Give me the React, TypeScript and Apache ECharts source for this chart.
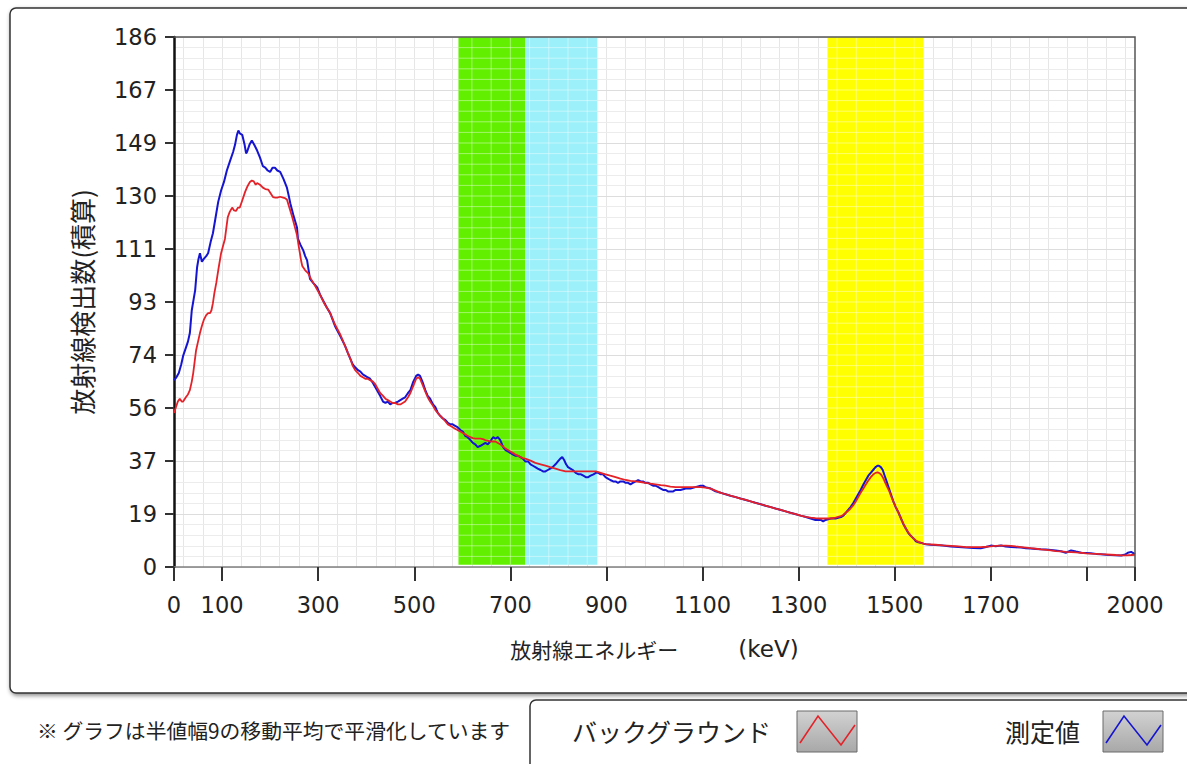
import React, { useEffect, useRef } from "react";
import * as echarts from "echarts";

// ---- data (keV, counts) ----
const measuredData: [number, number][] = [
  [0,65.5],[5,66.5],[10,68],[15,71],[19,74],[25,77],[29,79],[33,82],[37,90],[41,94],[44,97],[48,105],[51,108],[54,110],[58,107],[62,108],[67,109],[71,110],[77,114.5],[81,117],[86,122],[92,128],[98,132],[104,135],[110,139],[116,142],[123,145.5],[127,148],[131,151.5],[134,153],[137,152],[142,151.5],[147,148],[150,145],[152,145.5],[157,148],[162,149.5],[167,148],[173,146],[179,143.5],[185,140.5],[190,140],[195,139],[200,138.5],[205,140],[210,140],[215,139],[221,138.5],[228,136],[235,133],[239,130],[242,127.5],[249,123],[256,119],[258,115],[263,113],[269,111],[273,109],[277,107.5],[283,101],[290,99.5],[298,98],[304,95.5],[310,93.5],[318,91],[325,89],[335,84.5],[346,81],[356,77.5],[362,75],[367,73],[372,71],[377,70],[383,69],[388,68.5],[393,67.5],[398,67],[403,66.5],[408,66],[414,64.5],[419,63],[424,61.5],[429,60],[435,58],[440,57.5],[445,58],[450,57],[455,57.5],[460,57.5],[466,58],[471,58.5],[476,59],[481,59.5],[487,61],[492,62],[498,65],[504,67],[508,67.5],[512,67],[517,65],[523,62],[528,60],[533,59],[539,57],[544,56],[549,54],[554,53],[560,52],[565,51.5],[570,50.5],[575,50],[580,50],[585,49.5],[590,49],[596,48],[601,47.5],[606,46],[611,45.5],[617,44.5],[622,43.5],[627,43],[632,42],[638,42.5],[643,43],[648,43.5],[653,43],[658,44],[664,45.5],[669,45],[674,45.5],[679,44.5],[685,42],[690,41],[695,40.5],[700,40],[705,39.5],[710,39],[716,39],[721,38.5],[726,38],[731,37],[737,37],[742,36],[747,35.5],[752,35],[757,34.5],[763,34],[768,33.5],[773,33.5],[778,34],[783,34.5],[788,35],[794,36],[799,37],[804,38],[808,38.5],[812,37.5],[816,36],[820,35],[825,34.5],[830,34],[836,33],[842,32.5],[847,32.5],[852,32],[857,31.5],[862,31.5],[867,32],[873,32.5],[878,33],[883,33],[888,32.5],[893,32.5],[898,31.5],[903,31],[908,30.5],[914,30],[919,30],[924,29.5],[929,30],[935,30],[940,29.5],[945,29.5],[950,29],[955,29.5],[961,30],[966,30.5],[971,30],[976,30],[981,29.5],[987,29.5],[992,29],[997,28.5],[1002,28.5],[1008,28],[1013,27.5],[1018,27],[1023,27],[1028,26.5],[1033,26.5],[1039,26.5],[1044,27],[1054,27],[1065,27.5],[1075,27.5],[1085,28],[1096,28.5],[1101,28.5],[1106,28],[1117,27.5],[1127,26.5],[1138,26],[1148,25.5],[1158,25],[1169,24.5],[1179,24],[1190,23.5],[1200,23],[1210,22.5],[1221,22],[1231,21.5],[1242,21],[1252,20.5],[1263,20],[1273,19.5],[1283,19],[1294,18.5],[1304,18],[1315,17.5],[1325,17],[1335,16.5],[1346,16.5],[1351,16],[1356,16.5],[1367,17],[1377,17],[1388,17.5],[1393,18],[1398,19],[1403,20],[1408,21],[1414,22.5],[1419,24],[1424,25.5],[1429,27],[1435,29],[1440,30.5],[1445,32],[1450,33],[1455,34],[1460,35],[1464,35.5],[1467,35.5],[1471,35],[1475,34],[1479,32],[1483,30],[1488,27.5],[1492,25.5],[1497,23],[1502,21],[1508,19],[1513,17],[1518,15],[1523,13.5],[1528,12],[1533,11],[1539,10],[1544,9],[1549,8.7],[1554,8.5],[1560,8.2],[1565,8],[1575,7.8],[1585,7.7],[1600,7.5],[1617,7.2],[1633,7],[1648,6.8],[1664,6.7],[1679,6.6],[1690,7],[1700,7.5],[1710,7.3],[1721,7.5],[1731,7.2],[1742,7],[1752,6.9],[1763,6.8],[1773,6.6],[1783,6.5],[1794,6.3],[1804,6.2],[1815,6.1],[1825,6],[1835,5.8],[1846,5.5],[1856,5],[1867,5.8],[1877,5.4],[1888,5],[1898,4.9],[1908,4.8],[1919,4.6],[1929,4.5],[1940,4.3],[1950,4.2],[1960,4.1],[1971,4],[1980,4.4],[1985,5],[1992,5.3],[2000,4.5]
];

const backgroundData: [number, number][] = [
  [0,54],[4,56],[8,58],[12,59],[16,58],[19,58],[25,59.6],[29,60.5],[33,62],[37,65],[40,68],[43,72],[46,76],[50,79],[54,82],[58,84.5],[62,86.6],[67,88.3],[71,89],[75,89],[78,90],[81,92.5],[84,96],[88,99.6],[93,105],[98,110],[102,112.5],[106,115],[109,119],[112,122.7],[116,124.5],[121,126],[125,125],[129,124.8],[133,126],[137,126],[142,128.5],[148,131.5],[153,133.5],[158,135],[162,135.5],[166,135.2],[170,134],[173,134.6],[179,134],[185,133],[190,132.5],[196,132.3],[201,131],[206,129.7],[211,129.5],[215,129.5],[221,129.8],[227,129.5],[231,129.3],[235,128.8],[240,126],[246,122.7],[251,119.5],[256,116.4],[259,113],[262,110],[265,107],[267,105.5],[273,104],[279,103],[285,101],[290,99.6],[297,97.5],[304,95.4],[314,92],[325,89],[335,85],[346,81.5],[356,77.5],[362,75],[367,73],[372,70.5],[377,69],[383,68],[388,67],[393,66.5],[398,66],[403,66],[408,65.5],[414,65],[419,64],[424,62.5],[429,61],[435,60],[440,59],[445,58.5],[450,58],[455,57.5],[460,57.5],[466,57],[471,57],[476,57.5],[481,58],[487,59.5],[492,61],[498,63.5],[504,66],[508,66.5],[512,66],[517,64],[523,61.5],[528,59.5],[533,58],[539,56.5],[544,55],[549,54],[554,53],[560,52],[565,51],[570,50],[575,49.5],[580,49],[585,48.5],[590,48],[596,47.5],[601,47],[606,46.5],[611,46],[617,45.5],[622,45.2],[627,45],[632,45],[638,45],[643,44.8],[648,44.5],[653,44.3],[658,44],[664,44],[669,44],[674,43.5],[679,43],[685,42.2],[690,41.5],[695,41],[700,40.5],[705,40],[710,39.5],[716,39],[721,38.5],[726,38.2],[731,38],[742,37.3],[752,36.5],[763,36],[773,35.5],[783,35],[794,34.5],[804,34],[815,33.5],[825,33.5],[836,33.5],[846,33.5],[857,33.5],[867,33.5],[878,33.5],[888,33],[898,32.5],[908,32],[919,31.5],[929,31],[940,30.5],[950,30.2],[961,30],[971,29.8],[981,29.5],[992,29.2],[1002,29],[1013,28.7],[1023,28.5],[1033,28.2],[1044,28],[1054,28],[1065,28],[1075,28],[1085,28],[1096,28],[1106,27.8],[1117,27.5],[1127,26.8],[1138,26],[1148,25.5],[1158,25],[1169,24.5],[1179,24],[1190,23.5],[1200,23],[1210,22.5],[1221,22],[1231,21.5],[1242,21],[1252,20.5],[1263,20],[1273,19.5],[1283,19],[1294,18.5],[1304,18],[1315,17.6],[1325,17.3],[1335,17.1],[1346,17],[1356,17],[1367,17],[1377,17.3],[1388,17.8],[1393,18.3],[1398,19],[1403,19.7],[1408,20.5],[1414,21.7],[1419,23],[1424,24.5],[1429,26],[1435,27.6],[1440,29],[1445,30.3],[1450,31.5],[1455,32.4],[1460,33],[1464,33.2],[1467,33],[1471,32.5],[1475,31.5],[1479,30],[1483,28.5],[1488,26.8],[1492,25],[1497,23],[1502,21],[1508,19],[1513,17],[1518,15.2],[1523,13.5],[1528,12.2],[1533,11],[1539,10],[1544,9.3],[1549,8.8],[1554,8.5],[1560,8.2],[1565,8],[1585,7.8],[1600,7.6],[1617,7.4],[1633,7.2],[1648,7],[1664,7],[1679,7],[1690,7.1],[1700,7.2],[1710,7.4],[1721,7.5],[1731,7.5],[1742,7.4],[1752,7.2],[1763,7],[1773,6.8],[1783,6.6],[1794,6.4],[1804,6.2],[1815,6],[1825,5.8],[1835,5.6],[1846,5.5],[1856,5.3],[1867,5.2],[1877,5.1],[1888,5],[1898,4.8],[1908,4.7],[1919,4.6],[1929,4.5],[1940,4.4],[1950,4.3],[1960,4.2],[1971,4.1],[1981,4.1],[1992,4.2],[2000,4.3]
];

// axis settings
const xMin = 0;
const xMax = 2000;
const yMin = 0;
const yMax = 185.8;
const yStep = 18.58;
const xTickValues = [0, 100, 300, 500, 700, 900, 1100, 1300, 1500, 1700, 1900, 2000];
const xLabelValues = [0, 100, 300, 500, 700, 900, 1100, 1300, 1500, 1700, 2000];

// highlighted energy windows
const bandStarts = [592, 731, 1360];
const bandEnds = [731, 881, 1560];
const bandColors = ["#62f000", "#9cf0fa", "#ffff00"];

const seriesNames = ["バックグラウンド", "測定値"];
const seriesColors = ["#e42228", "#1414d2"];

const xAxisName = "{a|放射線エネルギー}{s|　　　}{b|(keV)}";
const yAxisName = "放射線検出数(積算)";
const noteText = "※ グラフは半値幅9の移動平均で平滑化しています";

const JP = "'Noto Sans CJK JP', 'Noto Sans', sans-serif";
const NUM = "'DejaVu Sans', Verdana, sans-serif";

// grid line positions (every 40 keV, aligned to the 100 keV tick)
const vGridValues = Array.from({ length: 50 }, (_, i) => 20 + i * 40);
const hGridValues = Array.from({ length: 51 }, (_, i) => (i * yStep) / 5);

export default function App() {
  const ref = useRef<HTMLDivElement>(null);

  useEffect(() => {
    if (!ref.current) return;
    const chart = echarts.init(ref.current, null, { renderer: "svg" });

    const GL = 174, GT = 37, GW = 961, GH = 530;

    const iconBox = (x: number, color: string) => [
      {
        type: "rect",
        shape: { x, y: 711, width: 60, height: 41 },
        style: {
          fill: new echarts.graphic.LinearGradient(0, 0, 0, 1, [
            { offset: 0, color: "#d2d2d2" },
            { offset: 1, color: "#a8a8a8" },
          ]),
          stroke: "#6a6a6a",
          lineWidth: 1,
        },
        z: 5,
      },
      {
        type: "polyline",
        shape: { points: [[x + 3, 743], [x + 21, 716], [x + 44, 745], [x + 58, 725]] },
        style: { stroke: color, lineWidth: 1.6, fill: null },
        z: 6,
      },
    ];

    // colored energy windows with light grid lines drawn over them
    const renderBand = (params: any, api: any) => {
      const s = api.value(0);
      const e = api.value(1);
      const ci = api.value(2);
      const p0 = api.coord([s, yMax]);
      const p1 = api.coord([e, 0.8]);
      const children: any[] = [
        {
          type: "rect",
          shape: { x: p0[0], y: p0[1], width: p1[0] - p0[0], height: p1[1] - p0[1] },
          style: { fill: bandColors[ci] },
        },
      ];
      const lineStyle = { stroke: "rgba(255,255,255,0.42)", lineWidth: 1 };
      vGridValues
        .filter((v) => v > s && v < e)
        .forEach((v) => {
          const x = api.coord([v, 0])[0];
          children.push({ type: "line", shape: { x1: x, y1: p0[1], x2: x, y2: p1[1] }, style: lineStyle });
        });
      hGridValues
        .filter((v) => v > 0.8 && v < yMax)
        .forEach((v) => {
          const y = api.coord([s, v])[1];
          children.push({ type: "line", shape: { x1: p0[0], y1: y, x2: p1[0], y2: y }, style: lineStyle });
        });
      return { type: "group", children };
    };

    chart.setOption({
      animation: false,
      backgroundColor: "#ffffff",
      grid: { left: GL, top: GT, width: GW, height: GH, show: false },
      xAxis: [
        {
          type: "value",
          min: xMin,
          max: xMax,
          axisLine: { show: true, lineStyle: { color: "#808080", width: 1.5 } },
          axisTick: { show: true, customValues: xTickValues, length: 14, lineStyle: { color: "#333", width: 2 } },
          axisLabel: {
            customValues: xLabelValues,
            margin: 26,
            fontSize: 22.5,
            color: "#222",
            fontFamily: NUM,
            formatter: (v: number) => String(v),
          },
          splitLine: { show: false },
          name: xAxisName,
          nameLocation: "middle",
          nameGap: 70,
          nameTextStyle: {
            color: "#222",
            rich: {
              a: { fontSize: 21, color: "#222", fontFamily: JP },
              s: { fontSize: 20, fontFamily: JP },
              b: { fontSize: 23, color: "#222", fontFamily: NUM },
            },
          },
          z: 6,
        },
      ],
      yAxis: [
        {
          type: "value",
          min: yMin,
          max: yMax,
          interval: yStep,
          axisLine: { show: true, lineStyle: { color: "#111", width: 2.5 } },
          axisTick: { show: true, length: 9, lineStyle: { color: "#333", width: 2 } },
          axisLabel: {
            fontSize: 22.5,
            color: "#222",
            margin: 17,
            fontFamily: NUM,
            formatter: (v: number) => String(Math.round(v)),
          },
          splitLine: { show: true, lineStyle: { color: "#dddddd", width: 1 } },
          minorTick: { show: false, splitNumber: 5 },
          minorSplitLine: { show: true, lineStyle: { color: "#ececec", width: 1 } },
          name: yAxisName,
          nameLocation: "middle",
          nameGap: 80,
          nameTextStyle: { fontSize: 26, color: "#222", fontFamily: JP },
          z: 6,
        },
      ],
      series: [
        {
          type: "line",
          name: "vgrid",
          data: [],
          silent: true,
          markLine: {
            symbol: ["none", "none"],
            silent: true,
            label: { show: false },
            lineStyle: { color: "#e6e6e6", width: 1, type: "solid" },
            data: vGridValues.map((v) => ({ xAxis: v })),
          },
        },
        {
          type: "custom",
          name: "bands",
          renderItem: renderBand,
          data: bandStarts.map((s, i) => [s, bandEnds[i], i]),
          z: 6,
          silent: true,
        },
        {
          type: "line",
          name: seriesNames[1],
          data: measuredData,
          showSymbol: false,
          symbol: "none",
          z: 10,
          lineStyle: { color: seriesColors[1], width: 2 },
          itemStyle: { color: seriesColors[1] },
        },
        {
          type: "line",
          name: seriesNames[0],
          data: backgroundData,
          showSymbol: false,
          symbol: "none",
          z: 11,
          lineStyle: { color: seriesColors[0], width: 1.8 },
          itemStyle: { color: seriesColors[0] },
        },
      ],
      graphic: [
        {
          type: "rect",
          shape: { x: 10, y: 8, width: 1200, height: 685, r: 6 },
          style: {
            fill: "#ffffff",
            stroke: "#333",
            lineWidth: 1.5,
            shadowBlur: 4,
            shadowColor: "rgba(0,0,0,0.45)",
            shadowOffsetX: 1,
            shadowOffsetY: 2,
          },
          z: -10,
          silent: true,
        },
        {
          type: "polyline",
          shape: { points: [[GL, GT], [GL + GW, GT], [GL + GW, GT + GH]] },
          style: { stroke: "#555", lineWidth: 1.5, fill: null },
          z: 20,
          silent: true,
        },
        {
          type: "text",
          x: 37,
          y: 730,
          style: { text: noteText, fontSize: 20.8, fill: "#222", fontFamily: JP, verticalAlign: "middle" },
          z: 5,
        },
        {
          type: "rect",
          shape: { x: 530, y: 700, width: 700, height: 90, r: 6 },
          style: { fill: "#fff", stroke: "#333", lineWidth: 1.5 },
          z: 1,
          silent: true,
        },
        {
          type: "text",
          x: 572,
          y: 731,
          style: { text: seriesNames[0], fontSize: 25, fill: "#222", fontFamily: JP, verticalAlign: "middle" },
          z: 5,
        },
        {
          type: "text",
          x: 1005,
          y: 731,
          style: { text: seriesNames[1], fontSize: 25, fill: "#222", fontFamily: JP, verticalAlign: "middle" },
          z: 5,
        },
        ...iconBox(797, seriesColors[0]),
        ...iconBox(1103, seriesColors[1]),
      ],
    });

    return () => chart.dispose();
  }, []);

  return (
    <div
      ref={ref}
      style={{ position: "absolute", left: 0, top: 0, width: 1187, height: 764, background: "#fff" }}
    />
  );
}
